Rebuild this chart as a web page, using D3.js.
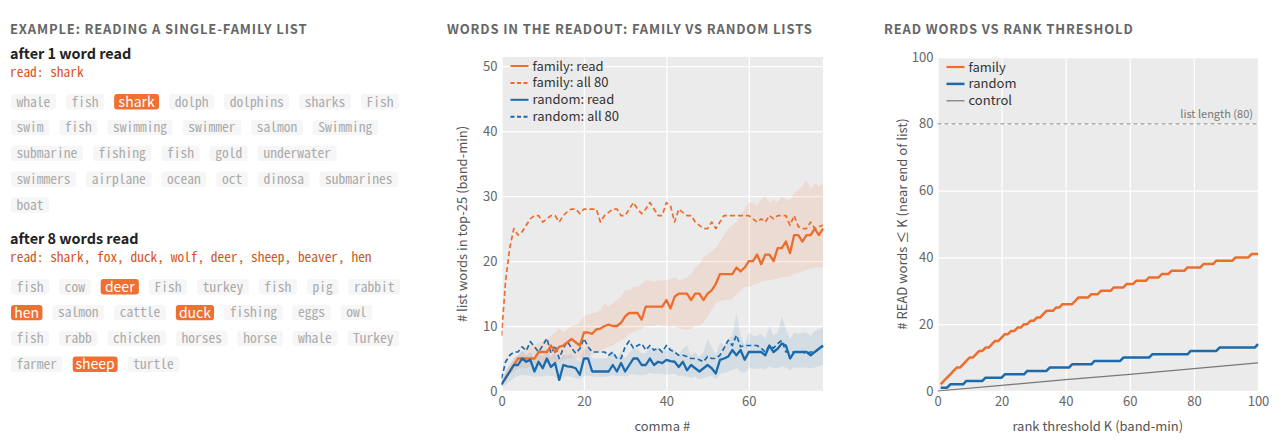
<!DOCTYPE html>
<html>
<head>
<meta charset="utf-8">
<script src="https://cdn.jsdelivr.net/npm/d3@7"></script>
<style>
body { margin: 0; background: #fff; }
svg text { font-family: "Noto Sans CJK KR", "Noto Sans", sans-serif; }
svg text.mono { font-family: "Noto Sans Mono CJK KR", "DejaVu Sans Mono", monospace; }
</style>
</head>
<body>
<svg id="fig" width="1280" height="441"></svg>
<script>
// ---- example lists (left panel)
const readStep1 = ["shark"];
const listStep1 = [
    ["whale", "fish", "shark", "dolph", "dolphins", "sharks", "Fish"],
    ["swim", "fish", "swimming", "swimmer", "salmon", "Swimming"],
    ["submarine", "fishing", "fish", "gold", "underwater"],
    ["swimmers", "airplane", "ocean", "oct", "dinosa", "submarines"],
    ["boat"]
];
const readStep8 = ["shark", "fox", "duck", "wolf", "deer", "sheep", "beaver", "hen"];
const listStep8 = [
    ["fish", "cow", "deer", "Fish", "turkey", "fish", "pig", "rabbit"],
    ["hen", "salmon", "cattle", "duck", "fishing", "eggs", "owl"],
    ["fish", "rabb", "chicken", "horses", "horse", "whale", "Turkey"],
    ["farmer", "sheep", "turtle"]
];

// ---- readout per comma (middle panel), comma 0..78
const commas = d3.range(79);
const familyRead = [
    1, 2, 3, 4, 5, 5, 5, 5, 5, 6,
    6, 6, 7, 6, 6.8, 7, 7.5, 8, 7.5, 7,
    9, 9, 8.8, 9.5, 9.6, 10, 10.2, 10, 10, 10.5,
    11.5, 12, 12, 12, 11, 13, 13, 13, 13, 13,
    14, 12.7, 14.5, 15, 15, 15, 14, 15, 15, 14,
    15, 15.5, 16.5, 18, 18, 18, 18, 19, 18.4, 19,
    20, 20, 21, 19.5, 21, 21, 20, 22, 22, 23,
    21.2, 24, 24, 23, 24, 24, 25, 24, 25
];
const familyReadLo = [
    1, 1.5, 2.5, 3, 3.5, 3.5, 3.5, 3.8, 4, 4,
    4, 4.2, 4.5, 4.3, 4.5, 4.8, 5, 5, 5, 5,
    5.3, 5.5, 5.5, 6, 6.2, 6.5, 6.8, 7, 7.5, 7.8,
    8.2, 8.8, 9, 9.3, 9.5, 10, 10, 10, 10.2, 10,
    10, 9.8, 10, 9.6, 9.5, 9.4, 9.6, 10, 10, 10.5,
    11.5, 12.5, 13.5, 13.8, 14, 14, 14.2, 14.8, 15.5, 16,
    16, 16.3, 16.5, 16.8, 17, 17, 17.2, 17.3, 17.5, 17.6,
    17.6, 18, 18.2, 18.4, 18.6, 18.8, 19, 19, 19
];
const familyReadHi = [
    1, 3, 4, 5, 5.5, 6, 6.5, 7, 7, 7.5,
    7.5, 8, 8.5, 9, 9.6, 9, 9.5, 10, 10.2, 10.5,
    11.5, 11.8, 12, 12, 12.5, 13.5, 13, 13.5, 14, 14.5,
    15.5, 15.5, 16, 16, 16.5, 17, 17, 16.8, 17, 17,
    17, 17.3, 17.5, 17, 17.2, 17.5, 18, 19, 19.5, 20.5,
    21, 21.5, 22, 23, 24, 25, 25.5, 26, 27, 28,
    29, 29, 28.5, 29.5, 30, 29, 29.5, 29, 30, 29.5,
    29.4, 30.5, 31, 31.5, 32.5, 31, 32, 31.5, 32
];
const familyAll = [
    8.5, 17, 22, 25, 24, 24.5, 25.5, 26.5, 27, 27,
    26, 26.5, 27, 27, 26, 27, 27.6, 28, 28, 27.3,
    28, 28, 28, 28, 26, 27, 27.5, 28, 28, 27,
    27, 28, 29, 28, 27.3, 28, 29, 28, 27, 27,
    29, 28.5, 26, 28, 27.5, 27, 27, 26, 25.5, 25,
    25, 26, 25, 26, 27, 27, 27, 27, 27, 27,
    27, 26.5, 26, 26.5, 26, 27, 26.5, 27, 27, 27,
    25.5, 27, 25.3, 25, 25, 26, 25, 25.3, 25.5
];
const randomRead = [
    1, 2, 3, 4, 4, 5, 4.5, 4.8, 3, 4.5,
    3.5, 5, 3.7, 4.3, 1.7, 4, 3.8, 3.7, 3.5, 2.5,
    5, 5, 3, 3, 3, 3, 3, 4, 3, 4.3,
    3, 4, 5, 5, 4, 4, 5, 4, 4.5, 4.3,
    4.8, 4.6, 4.5, 3.7, 4.5, 3.2, 4, 3.5, 3, 3.5,
    4, 3.5, 2.7, 4.8, 5, 5.3, 6.3, 5.5, 6.3, 4.8,
    6, 6, 6, 6, 5.5, 7, 6, 6.5, 7.3, 7,
    5, 6, 6, 6, 6, 5.5, 6, 6.5, 7
];
const randomReadLo = [
    0.5, 1, 1.5, 2, 2.3, 2.5, 2.4, 2.3, 2.2, 2.3,
    2.2, 2.4, 2.3, 2.2, 1.5, 2.2, 2.3, 2.2, 2, 1.8,
    2.3, 2.4, 2.2, 2.2, 2.2, 2.2, 2.3, 2.4, 2.3, 2.3,
    2.2, 2.5, 2.6, 2.5, 2.4, 2.5, 2.8, 2.6, 2.7, 2.6,
    2.5, 2.6, 2.6, 2.3, 2.4, 2.2, 2, 2.2, 1.8, 2,
    2.2, 2.3, 1.8, 2.6, 2.8, 3, 3.2, 3.5, 3, 2.8,
    3.5, 3.5, 3.4, 3.5, 3.3, 3.8, 3.5, 3.5, 3.8, 3.6,
    3.2, 3.6, 3.6, 3.6, 3.6, 3.5, 3.6, 3.8, 4
];
const randomReadHi = [
    1.5, 3, 4, 5, 5.5, 6.2, 5.5, 6, 5, 6,
    5.2, 6.5, 5.2, 6, 4.5, 5.6, 5.5, 5.6, 5, 4.5,
    6.5, 6.5, 5, 5, 5, 5, 5.2, 6.2, 5, 6.2,
    5, 5.8, 6.6, 6.5, 5.8, 5.8, 6.8, 6.2, 6.8, 6.2,
    6.3, 6.8, 6.3, 5.5, 6.5, 7, 5.5, 6, 5.2, 6,
    8, 6.8, 5.5, 7.5, 7, 8, 8.5, 12, 8.5, 7,
    9, 8.5, 8.5, 8.8, 8, 10, 8.5, 9, 11.5, 9.5,
    8, 9, 8.8, 9, 9, 8.5, 9.2, 9.5, 9.8
];
const randomAll = [
    1.9, 4.5, 5.5, 6, 6, 6.8, 6.2, 7.6, 6.8, 6,
    7, 8.1, 5.8, 7, 5, 6.6, 7.6, 6.6, 5.8, 6.5,
    8.1, 6.8, 6, 6, 6, 6, 5.5, 6, 5, 5,
    6.8, 7.7, 6.6, 7, 7.3, 6.3, 7, 6.3, 6.6, 6,
    7, 6.3, 6, 5.5, 5.5, 5.3, 5, 5, 4.8, 4.5,
    5.3, 5, 5, 5.5, 6.6, 7.8, 7, 8.6, 6.8, 7,
    7, 7, 7, 6.6, 6, 7, 6.6, 7.3, 7.8, 6,
    6, 6, 6, 6, 5.8, 6, 6, 6.5, 6.8
];

// ---- read words vs rank threshold (right panel), K = 1..100
const ranks = d3.range(1, 101);
const familyByK = [
    2, 3, 4, 5, 6, 7, 7, 8, 9, 10,
    10, 11, 12, 12, 13, 13, 14, 15, 15, 16,
    17, 17, 18, 18, 19, 19, 20, 20, 21, 21,
    22, 22, 23, 24, 24, 24, 25, 25, 26, 26,
    26, 26, 27, 28, 28, 28, 28, 29, 29, 29,
    30, 30, 30, 30, 31, 31, 31, 31, 32, 32,
    32, 33, 33, 33, 33, 34, 34, 34, 34, 35,
    35, 35, 36, 36, 36, 36, 36, 37, 37, 37,
    37, 37, 38, 38, 38, 38, 39, 39, 39, 39,
    39, 39, 40, 40, 40, 40, 40, 41, 41, 41
];
const randomByK = [
    1, 1, 1, 2, 2, 2, 2, 2, 3, 3,
    3, 3, 3, 3, 4, 4, 4, 4, 4, 4,
    5, 5, 5, 5, 5, 5, 5, 6, 6, 6,
    6, 6, 6, 6, 7, 7, 7, 7, 7, 7,
    7, 8, 8, 8, 8, 8, 8, 8, 9, 9,
    9, 9, 9, 9, 9, 9, 9, 10, 10, 10,
    10, 10, 10, 10, 10, 10, 11, 11, 11, 11,
    11, 11, 11, 11, 11, 11, 11, 11, 12, 12,
    12, 12, 12, 12, 12, 12, 12, 13, 13, 13,
    13, 13, 13, 13, 13, 13, 13, 13, 13, 14
];
const controlK = [0, 20, 40, 60, 80, 100];
const controlVals = [0, 1.7, 3.4, 5.0, 6.7, 8.4];
const listLength = 80;

const orange = "#ee6d2d", blue = "#1b6aab", grey = "#777";
const svg = d3.select("#fig");

// ---------------- left panel ----------------
svg.append("text")
    .attr("x", 10).attr("y", 34)
    .attr("font-size", 13).attr("font-weight", "bold")
    .attr("fill", "#666").attr("letter-spacing", 0.85)
    .text("EXAMPLE: READING A SINGLE-FAMILY LIST");

function drawStep(baseY, heading, read, rows)
{
    svg.append("text")
        .attr("x", 10).attr("y", baseY)
        .attr("font-size", 14.4).attr("font-weight", "bold").attr("fill", "#222")
        .text(heading);

    svg.append("text").attr("class", "mono")
        .attr("x", 10).attr("y", baseY + 18)
        .attr("font-size", 13.4).attr("fill", "#d4561c")
        .text("read: " + read.join(", "));

    let padX = 5.6, gap = 10;
    rows.forEach((row, i) => {
        let cy = baseY + 42.8 + i * 25.8;
        let cursor = 11;
        row.forEach(word => {
            let hit = read.includes(word);
            let tag = svg.append("g");
            let rect = tag.append("rect");
            let label = tag.append("text").attr("class", "mono")
                .attr("font-size", 13.5)
                .attr("fill", hit ? "#fff" : "#aaa")
                .attr("y", cy).attr("dy", "0.36em")
                .text(word);
            //Box width follows the monospaced word; read words are set in the sans face
            let w = label.node().getComputedTextLength() + 2 * padX;
            if (hit) {
                label.attr("class", null)
                    .attr("font-size", 14)
                    .attr("text-anchor", "middle")
                    .attr("x", cursor + w / 2);
            } else {
                label.attr("x", cursor + padX);
            }
            rect.attr("x", cursor).attr("y", cy - 7.7)
                .attr("width", w).attr("height", 15.4)
                .attr("rx", 3)
                .attr("fill", hit ? "#ee7033" : "#f6f6f6");
            cursor += w + gap;
        });
    });
}

drawStep(59, "after 1 word read", readStep1, listStep1);
drawStep(244, "after 8 words read", readStep8, listStep8);

// ---------------- chart panels ----------------
const plotTop = 57, plotBottom = 391;

function makePanel(p)
{
    let x = d3.scaleLinear().domain(p.xDomain).range([p.left, p.right]);
    let y = d3.scaleLinear().domain(p.yDomain).range([plotBottom, plotTop]);
    let g = svg.append("g");

    svg.append("text")
        .attr("x", p.titleX).attr("y", 34)
        .attr("font-size", 13).attr("font-weight", "bold")
        .attr("fill", "#666").attr("letter-spacing", 0.85)
        .text(p.title);

    g.append("rect")
        .attr("x", p.left).attr("y", plotTop)
        .attr("width", p.right - p.left).attr("height", plotBottom - plotTop)
        .attr("fill", "#ebebeb");

    //Gridlines
    g.append("g")
        .attr("transform", "translate(0," + plotBottom + ")")
        .call(d3.axisBottom(x).tickValues(p.xTicks).tickSize(-(plotBottom - plotTop)).tickFormat(""))
        .call(a => a.select(".domain").remove())
        .selectAll("line").attr("stroke", "#fff").attr("stroke-width", 1.3);
    g.append("g")
        .attr("transform", "translate(" + p.left + ",0)")
        .call(d3.axisLeft(y).tickValues(p.yTicks).tickSize(-(p.right - p.left)).tickFormat(""))
        .call(a => a.select(".domain").remove())
        .selectAll("line").attr("stroke", "#fff").attr("stroke-width", 1.3);

    //Tick labels
    let xAxis = g.append("g")
        .attr("transform", "translate(0," + plotBottom + ")")
        .call(d3.axisBottom(x).tickValues(p.xTicks).tickSize(0).tickPadding(6));
    let yAxis = g.append("g")
        .attr("transform", "translate(" + p.left + ",0)")
        .call(d3.axisLeft(y).tickValues(p.yTicks).tickSize(0).tickPadding(4));
    [xAxis, yAxis].forEach(a => {
        a.select(".domain").remove();
        a.selectAll("text")
            .attr("font-size", 13)
            .attr("fill", "#666")
            .attr("font-family", "'Noto Sans CJK KR', 'Noto Sans', sans-serif");
    });

    //Axis labels
    svg.append("text")
        .attr("x", (p.left + p.right) / 2).attr("y", 431)
        .attr("text-anchor", "middle")
        .attr("font-size", 13).attr("fill", "#555")
        .text(p.xLabel);
    svg.append("text")
        .attr("transform", "translate(" + p.yLabelX + "," + (plotTop + plotBottom) / 2 + ") rotate(-90)")
        .attr("text-anchor", "middle")
        .attr("font-size", 13).attr("fill", "#555")
        .text(p.yLabel);

    let clipId = "clip-" + p.id;
    svg.append("clipPath").attr("id", clipId)
        .append("rect")
        .attr("x", p.left).attr("y", plotTop - 2)
        .attr("width", p.right - p.left + 2).attr("height", plotBottom - plotTop + 4);
    let plot = svg.append("g").attr("clip-path", "url(#" + clipId + ")");

    return {x: x, y: y, plot: plot};
}

function legend(entries, lineX, rowY)
{
    let lg = svg.append("g");
    entries.forEach((e, i) => {
        let yy = rowY + i * 16.9;
        lg.append("line")
            .attr("x1", lineX).attr("x2", lineX + 18)
            .attr("y1", yy).attr("y2", yy)
            .attr("stroke", e.color).attr("stroke-width", e.width)
            .attr("stroke-dasharray", e.dash);
        lg.append("text")
            .attr("x", lineX + 22).attr("y", yy).attr("dy", "0.35em")
            .attr("font-size", 13).attr("fill", "#333")
            .text(e.label);
    });
}

// ---- middle: words in the readout
let mid = makePanel({
    id: "mid", left: 501.5, right: 823, titleX: 447,
    title: "WORDS IN THE READOUT: FAMILY VS RANDOM LISTS",
    xDomain: [0, 78], yDomain: [0, 51.4],
    xTicks: [0, 20, 40, 60], yTicks: [0, 10, 20, 30, 40, 50],
    xLabel: "comma #", yLabel: "# list words in top-25 (band-min)", yLabelX: 467
});

function band(panel, lo, hi, color, opacity)
{
    let area = d3.area()
        .x((d, i) => panel.x(commas[i]))
        .y0((d, i) => panel.y(lo[i]))
        .y1((d, i) => panel.y(hi[i]));
    panel.plot.append("path")
        .datum(commas)
        .attr("d", area)
        .attr("fill", color).attr("fill-opacity", opacity);
}

function series(panel, xs, ys, color, width, dash)
{
    let line = d3.line()
        .x((d, i) => panel.x(xs[i]))
        .y(d => panel.y(d));
    panel.plot.append("path")
        .datum(ys)
        .attr("d", line)
        .attr("fill", "none")
        .attr("stroke", color).attr("stroke-width", width)
        .attr("stroke-linejoin", "round")
        .attr("stroke-dasharray", dash);
}

band(mid, familyReadLo, familyReadHi, orange, 0.12);
band(mid, randomReadLo, randomReadHi, blue, 0.11);
series(mid, commas, familyAll, orange, 1.7, "5,3");
series(mid, commas, randomAll, blue, 1.7, "5,3");
series(mid, commas, familyRead, orange, 2.3, null);
series(mid, commas, randomRead, blue, 2.3, null);

legend([
    {label: "family: read", color: orange, width: 2, dash: null},
    {label: "family: all 80", color: orange, width: 2, dash: "4,2.5"},
    {label: "random: read", color: blue, width: 2, dash: null},
    {label: "random: all 80", color: blue, width: 2, dash: "4,2.5"}
], 510.5, 66);

// ---- right: read words vs rank threshold
let right = makePanel({
    id: "right", left: 937.5, right: 1258, titleX: 884,
    title: "READ WORDS VS RANK THRESHOLD",
    xDomain: [0, 100], yDomain: [0, 100],
    xTicks: [0, 20, 40, 60, 80, 100], yTicks: [0, 20, 40, 60, 80, 100],
    xLabel: "rank threshold K (band-min)", yLabel: "# READ words \u2264 K (near end of list)", yLabelX: 907
});

right.plot.append("line")
    .attr("x1", right.x(0)).attr("x2", right.x(100))
    .attr("y1", right.y(listLength)).attr("y2", right.y(listLength))
    .attr("stroke", "#999").attr("stroke-width", 1.3)
    .attr("stroke-dasharray", "4,3");
svg.append("text")
    .attr("x", right.x(100) - 5).attr("y", right.y(listLength) - 6)
    .attr("text-anchor", "end")
    .attr("font-size", 11).attr("fill", "#777")
    .text("list length (" + listLength + ")");

series(right, controlK, controlVals, grey, 1.2, null);
series(right, ranks, randomByK, blue, 2.5, null);
series(right, ranks, familyByK, orange, 2.5, null);

legend([
    {label: "family", color: orange, width: 2.2, dash: null},
    {label: "random", color: blue, width: 2.5, dash: null},
    {label: "control", color: grey, width: 1.2, dash: null}
], 946.5, 67);
</script>
</body>
</html>
